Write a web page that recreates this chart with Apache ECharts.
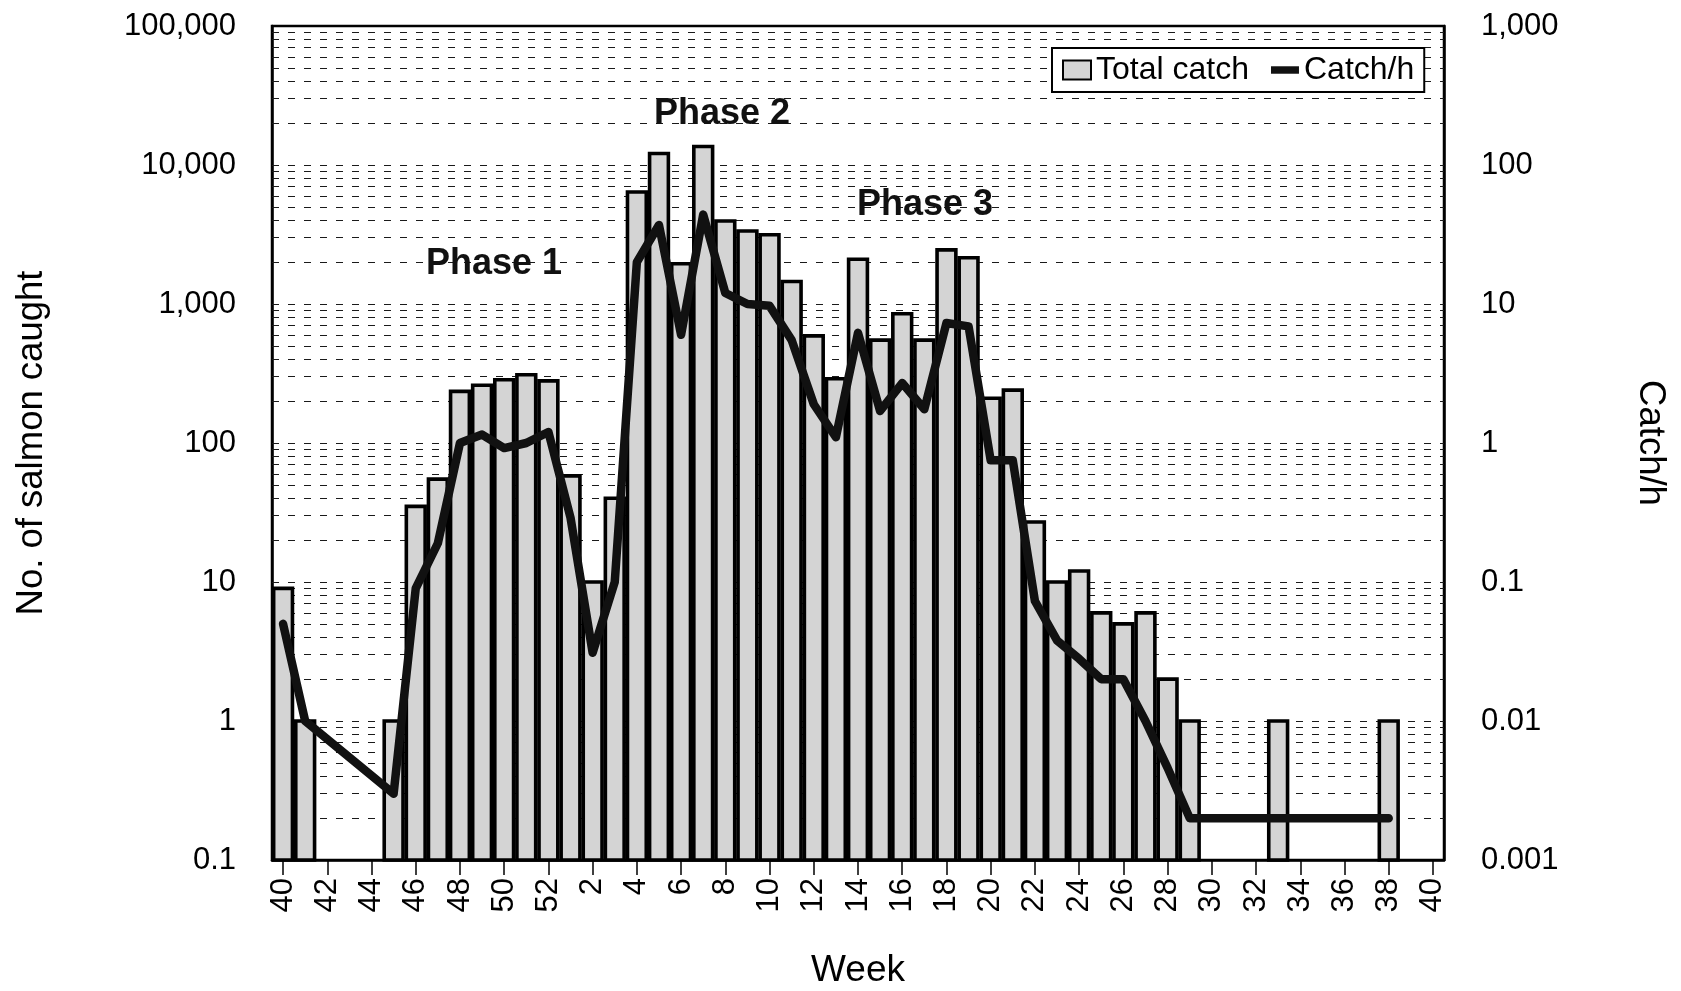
<!DOCTYPE html>
<html>
<head>
<meta charset="utf-8">
<title>Weekly salmon catch</title>
<script src="https://cdn.jsdelivr.net/npm/echarts@6/dist/echarts.min.js"></script>
<style>
  html, body { margin: 0; padding: 0; background: #ffffff; }
  #chart { width: 1681px; height: 991px; }
</style>
</head>
<body>
<div id="chart"></div>
<script>
// Week numbers: week 40 through week 52, then weeks 1-40 of the next year
const weeks = ['40','41','42','43','44','45','46','47','48','49','50','51','52',
  '1','2','3','4','5','6','7','8','9','10','11','12','13','14','15','16','17','18','19','20',
  '21','22','23','24','25','26','27','28','29','30','31','32','33','34','35','36','37','38','39','40'];

// Number of salmon caught per week (null = no catch)
const totalCatch = [9, 1, null, null, null, 1, 35, 55, 235, 260, 285, 310, 280,
  58, 10, 40, 6400, 12100, 1950, 13600, 3950, 3350, 3150, 1450, 590, 290, 2100, 550, 850, 550, 2450, 2150, 210,
  240, 27, 10, 12, 6, 5, 6, 2, 1, null, null, null, 1, null, null, null, null, 1, null, null];

// Catch per hour of fishing (null = no catch that week)
const catchPerHour = [0.05, 0.01, null, null, null, 0.003, 0.09, 0.19, 1.0, 1.15, 0.92, 1.0, 1.2,
  0.29, 0.031, 0.1, 20, 37, 6.0, 44, 12, 10, 9.7, 5.5, 1.9, 1.1, 6.2, 1.7, 2.7, 1.75, 7.3, 6.9, 0.75,
  0.75, 0.073, 0.038, 0.028, 0.02, 0.02, 0.01, 0.0046, 0.002, null, null, null, 0.002, null, null, null, null, 0.002, null, null];

// Axis tick labels, one per decade
const leftAxisLabels = ['0.1', '1', '10', '100', '1,000', '10,000', '100,000'];
const rightAxisLabels = ['0.001', '0.01', '0.1', '1', '10', '100', '1,000'];

// Phase annotations
const phaseLabels = ['Phase 1', 'Phase 2', 'Phase 3'];

// Dashed log grid: 1..9 within each decade
const gridMultipliers = [1, 2, 3, 4, 5, 6, 7, 8, 9];
const gridDecades = [0.1, 1, 10, 100, 1000, 10000];

const LEFT_MIN = 0.1, LEFT_MAX = 100000;
const RIGHT_MIN = 0.001, RIGHT_MAX = 1000;
const FONT = "'Liberation Sans', Arial, Helvetica, sans-serif";
const BAR_FILL = '#d4d4d4';
const LINE_COLOR = '#111111';

const gridValues = [];
gridDecades.forEach(d => gridMultipliers.forEach(m => {
  const v = Number((m * d).toPrecision(3));
  if (v > LEFT_MIN) gridValues.push(v);
}));

const barData = [];
totalCatch.forEach((v, i) => { if (v != null) barData.push([i, v]); });
const lineData = catchPerHour.map(v => (v == null ? '-' : v));

function decadeLabel(labels, minExp) {
  return function (value) {
    const k = Math.round(Math.log10(value)) - minExp;
    return labels[k] != null ? labels[k] : '';
  };
}

function renderBar(params, api) {
  const idx = api.value(0);
  const val = api.value(1);
  const top = api.coord([idx, val]);
  const base = api.coord([idx, LEFT_MIN]);
  const band = api.coord([1, val])[0] - api.coord([0, val])[0];
  const w = band * 0.85;
  return {
    type: 'rect',
    shape: { x: top[0] - w / 2, y: top[1], width: w, height: base[1] - top[1] },
    style: { fill: BAR_FILL, stroke: '#000000', lineWidth: 3.6 }
  };
}

const chart = echarts.init(document.getElementById('chart'), null, { renderer: 'canvas' });

const option = {
  animation: false,
  backgroundColor: '#ffffff',
  color: [BAR_FILL, LINE_COLOR],
  textStyle: { fontFamily: FONT, color: '#000' },
  grid: {
    left: 272, right: 237, top: 26, bottom: 131,
    outerBoundsMode: 'none',
    containLabel: false,
    show: true, borderColor: '#000', borderWidth: 2.5, backgroundColor: 'transparent'
  },
  legend: {
    left: 1052, top: 48,
    orient: 'horizontal',
    backgroundColor: '#ffffff',
    borderColor: '#000', borderWidth: 2,
    padding: [6, 10, 6, 10],
    itemWidth: 28, itemHeight: 19, itemGap: 22,
    textStyle: { fontSize: 32, color: '#000', fontFamily: FONT },
    data: [
      { name: 'Total catch', icon: 'rect',
        itemStyle: { color: BAR_FILL, borderColor: '#000', borderWidth: 2 } },
      { name: 'Catch/h', icon: 'path://M0 0H30V8H0Z',
        itemStyle: { color: LINE_COLOR } }
    ],
    selectedMode: false
  },
  xAxis: {
    type: 'category',
    data: weeks,
    boundaryGap: true,
    name: 'Week',
    nameLocation: 'middle',
    nameGap: 92,
    nameTextStyle: { fontSize: 37, color: '#000', fontFamily: FONT },
    axisLine: { show: true, lineStyle: { color: '#000', width: 2.5 } },
    axisTick: { show: true, alignWithLabel: true, interval: 1, length: 15,
      lineStyle: { color: '#000', width: 1.5 } },
    axisLabel: { interval: 1, rotate: 90, margin: 18, fontSize: 31, color: '#000', fontFamily: FONT },
    splitLine: { show: false }
  },
  yAxis: [
    {
      type: 'log', logBase: 10, min: LEFT_MIN, max: LEFT_MAX,
      position: 'left',
      name: 'No. of salmon caught',
      nameLocation: 'middle',
      nameGap: 222,
      nameTextStyle: { fontSize: 36.5, color: '#000', fontFamily: FONT },
      axisLine: { show: true, lineStyle: { color: '#000', width: 2.5 } },
      axisTick: { show: false },
      axisLabel: { margin: 36, fontSize: 31, color: '#000', fontFamily: FONT,
        formatter: decadeLabel(leftAxisLabels, -1) },
      splitLine: { show: false }
    },
    {
      type: 'log', logBase: 10, min: RIGHT_MIN, max: RIGHT_MAX,
      position: 'right',
      name: 'Catch/h',
      nameLocation: 'middle',
      nameRotate: -90,
      nameGap: 188,
      nameTextStyle: { fontSize: 36.5, color: '#000', fontFamily: FONT },
      axisLine: { show: true, lineStyle: { color: '#000', width: 2.5 } },
      axisTick: { show: false },
      axisLabel: { margin: 37, fontSize: 31, color: '#000', fontFamily: FONT,
        formatter: decadeLabel(rightAxisLabels, -3) },
      splitLine: { show: false }
    }
  ],
  series: [
    {
      name: 'Total catch',
      type: 'custom',
      xAxisIndex: 0,
      yAxisIndex: 0,
      renderItem: renderBar,
      encode: { x: 0, y: 1 },
      itemStyle: { color: BAR_FILL, borderColor: '#000' },
      data: barData,
      z: 2,
      markLine: {
        silent: true,
        z: 1,
        symbol: 'none',
        label: { show: false },
        emphasis: { disabled: true },
        lineStyle: { type: [7, 9], color: '#1a1a1a', width: 1.2 },
        data: gridValues.map(v => ({ yAxis: v }))
      }
    },
    {
      name: 'Catch/h',
      type: 'line',
      xAxisIndex: 0,
      yAxisIndex: 1,
      data: lineData,
      connectNulls: true,
      showSymbol: false,
      symbol: 'none',
      z: 3,
      lineStyle: { color: LINE_COLOR, width: 8.5, cap: 'round', join: 'round' }
    }
  ],
  graphic: [
    { type: 'text', x: 494, y: 264, z: 10,
      style: { text: phaseLabels[0], fill: '#111', font: 'bold 36px ' + FONT,
        align: 'center', verticalAlign: 'middle', textAlign: 'center', textVerticalAlign: 'middle' } },
    { type: 'text', x: 722, y: 114, z: 10,
      style: { text: phaseLabels[1], fill: '#111', font: 'bold 36px ' + FONT,
        align: 'center', verticalAlign: 'middle', textAlign: 'center', textVerticalAlign: 'middle' } },
    { type: 'text', x: 925, y: 205, z: 10,
      style: { text: phaseLabels[2], fill: '#111', font: 'bold 36px ' + FONT,
        align: 'center', verticalAlign: 'middle', textAlign: 'center', textVerticalAlign: 'middle' } }
  ]
};

chart.setOption(option);
</script>
</body>
</html>
